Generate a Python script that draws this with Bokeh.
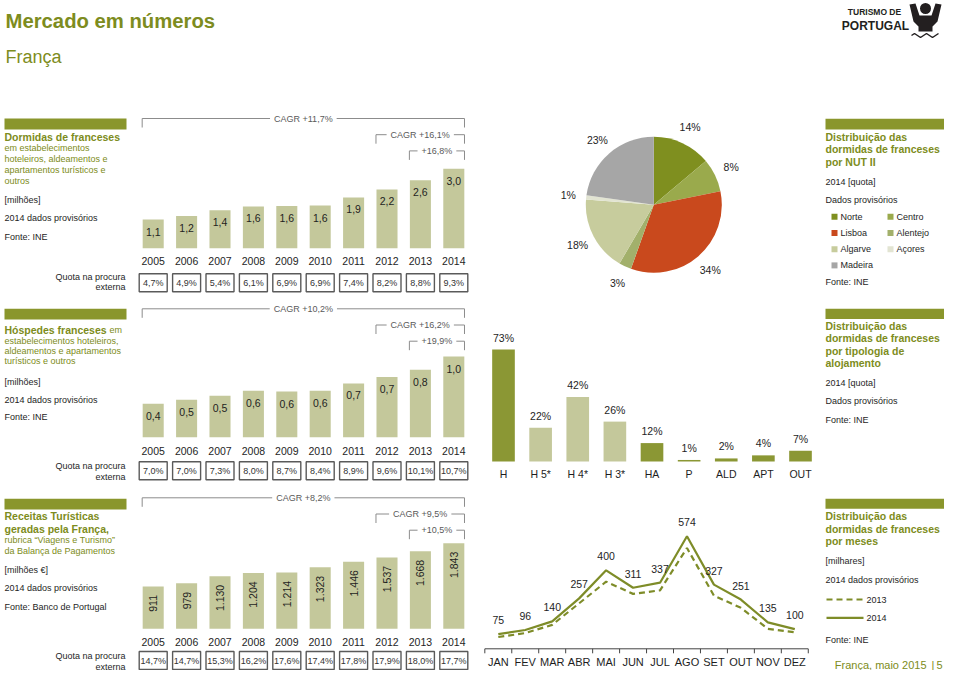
import math
from bokeh.plotting import figure
from bokeh.models import Range1d, ColumnDataSource
from bokeh.core.properties import value
from bokeh.embed import file_html
from bokeh.resources import INLINE

# ---------------- data ----------------
years = [2005, 2006, 2007, 2008, 2009, 2010, 2011, 2012, 2013, 2014]

dormidas = [1.08, 1.22, 1.43, 1.58, 1.59, 1.61, 1.92, 2.22, 2.57, 3.00]
dormidas_quota = ["4,7%", "4,9%", "5,4%", "6,1%", "6,9%", "6,9%", "7,4%", "8,2%", "8,8%", "9,3%"]
dormidas_cagr = ["CAGR +11,7%", "CAGR +16,1%", "+16,8%"]

hospedes = [0.41, 0.46, 0.51, 0.57, 0.56, 0.57, 0.66, 0.74, 0.83, 0.99]
hospedes_quota = ["7,0%", "7,0%", "7,3%", "8,0%", "8,7%", "8,4%", "8,9%", "9,6%", "10,1%", "10,7%"]
hospedes_cagr = ["CAGR +10,2%", "CAGR +16,2%", "+19,9%"]

receitas = [911, 979, 1130, 1204, 1214, 1323, 1446, 1537, 1668, 1843]
receitas_quota = ["14,7%", "14,7%", "15,3%", "16,2%", "17,6%", "17,4%", "17,8%", "17,9%", "18,0%", "17,7%"]
receitas_cagr = ["CAGR +8,2%", "CAGR +9,5%", "+10,5%"]

cagr_start = [2005, 2012, 2013]

nut_regions = ["Norte", "Centro", "Lisboa", "Alentejo", "Algarve", "Açores", "Madeira"]
nut_share = [14, 8, 34, 3, 18, 1, 23]

tipologia = ["H", "H 5*", "H 4*", "H 3*", "HA", "P", "ALD", "APT", "OUT"]
tip_share = [73, 22, 42, 26, 12, 1, 2, 4, 7]

months = ["JAN", "FEV", "MAR", "ABR", "MAI", "JUN", "JUL", "AGO", "SET", "OUT", "NOV", "DEZ"]
dormidas_2013 = [60, 80, 122, 232, 342, 280, 298, 514, 271, 209, 102, 84]
dormidas_2014 = [75, 96, 140, 257, 400, 311, 337, 574, 327, 251, 135, 100]

# ---------------- styles ----------------
FONT = value("Liberation Sans")
DARK = "#1e1e1e"
OLIVE_BAR = "#8a962c"
OLIVE_T = "#7d8c20"
LIGHT = "#c4c89b"
BAR_DARK = "#8b9734"
LINE_C = "#7e8c28"
GRAY_L = "#8c8c8c"
GRAY_T = "#5a5a5a"
LOGO = "#231f20"
PIE_COLORS = ["#7f8f1f", "#9aaa4c", "#c9491d", "#a2b06b", "#c7cc9d", "#e2e4d2", "#a6a6a6"]

W, H = 944, 670
X0, Y1 = 0, H

p = figure(width=W, height=H, x_range=Range1d(X0, X0 + W), y_range=Range1d(Y1, 0),
           output_backend="svg", toolbar_location=None, min_border=0,
           x_axis_type=None, y_axis_type=None, outline_line_color=None,
           background_fill_color="white", border_fill_color="white")


def make_range(v0, p0, v1, p1, axis):
    """Linear range so that data value v0 sits at pixel p0 and v1 at pixel p1."""
    if axis == "x":
        f0, f1, L = p0 - X0, p1 - X0, W
    else:
        f0, f1, L = Y1 - p0, Y1 - p1, H
    s = (f1 - f0) / (v1 - v0)
    start = v0 - f0 / s
    return Range1d(start=start, end=start + L / s), s


yr_r, _ = make_range(2005, 152.7, 2014, 453.3, "x")
v1_r, _ = make_range(0, 247.7, 3.0, 168.3, "y")
v2_r, _ = make_range(0, 436.7, 1.0, 355.3, "y")
v3_r, _ = make_range(0, 628.3, 1843, 542.7, "y")
tip_x, _ = make_range(0, 503, 8, 800, "x")
tip_y, _ = make_range(0, 461, 73, 349, "y")
mo_x, _ = make_range(0, 497.8, 11, 794.3, "x")
mo_y, sm = make_range(0, 648.3, 574, 535.7, "y")
pie_x, _ = make_range(0, 653.3, 1, 654.3, "x")
pie_y, _ = make_range(0, 204.3, 1, 203.3, "y")

p.extra_x_ranges = {"yr": yr_r, "tip": tip_x, "mo": mo_x, "pie": pie_x}
p.extra_y_ranges = {"v1": v1_r, "v2": v2_r, "v3": v3_r, "tipv": tip_y, "mv": mo_y, "pie": pie_y}


def txt(x, y, s, size=9, color=DARK, bold=False, align="left", baseline="middle", **kw):
    p.text(x=[x], y=[y], text=[s], text_font=FONT, text_font_size=f"{size}px",
           text_color=color, text_font_style="bold" if bold else "normal",
           text_align=align, text_baseline=baseline, **kw)


def header_bar(x0, x1, y0, y1):
    p.quad(left=[x0], right=[x1], top=[y0], bottom=[y1], fill_color=OLIVE_BAR, line_color=None)


# ---------------- page header ----------------
txt(5, 20.7, "Mercado em números", size=20.3, color=OLIVE_T, bold=True, baseline="alphabetic")
txt(5, 56.7, "França", size=18, color=OLIVE_T, baseline="alphabetic")
txt(874, 11, "TURISMO DE", size=8.5, color=LOGO, bold=True, align="center")
txt(875, 25.5, "PORTUGAL", size=12, color=LOGO, bold=True, align="center")
p.circle(x=[925], y=[8], radius=5.5, fill_color=LOGO, line_color=None)
p.patch(x=[909, 915, 919, 931, 935, 941, 937, 932, 932, 918, 918, 913],
        y=[4, 3, 15, 15, 3, 4, 21, 26, 31, 31, 26, 21], fill_color=LOGO, line_color=None)
p.line(x=[911, 914, 917, 920, 923, 926, 929, 932, 935, 938],
       y=[35, 33, 35, 37, 35, 33, 35, 37, 35, 33], line_color=LOGO, line_width=1.5)

# ---------------- left text panels ----------------
header_bar(4, 126, 118, 129)
txt(4, 136, "Dormidas de franceses", 10.5, OLIVE_T, bold=True)
for i, s in enumerate(["em estabelecimentos", "hoteleiros, aldeamentos e",
                       "apartamentos turísticos e", "outros"]):
    txt(4, 147.7 + 10.9 * i, s, 9, OLIVE_T)
txt(4, 199, "[milhões]", 9)
txt(4, 217.7, "2014 dados provisórios", 9)
txt(4, 236, "Fonte: INE", 9)
txt(125, 276, "Quota na procura", 9, align="right")
txt(125, 286.7, "externa", 9, align="right")

header_bar(4, 126, 308.3, 319)
txt(4, 329.3, "Hóspedes franceses", 10.5, OLIVE_T, bold=True)
txt(109, 329.3, "em", 9, OLIVE_T)
for i, s in enumerate(["estabelecimentos hoteleiros,", "aldeamentos e apartamentos",
                       "turísticos e outros"]):
    txt(4, 340.3 + 10.3 * i, s, 9, OLIVE_T)
txt(4, 381, "[milhões]", 9)
txt(4, 399, "2014 dados provisórios", 9)
txt(4, 416.7, "Fonte: INE", 9)
txt(125, 465.7, "Quota na procura", 9, align="right")
txt(125, 476, "externa", 9, align="right")

header_bar(4, 126, 498.3, 509)
txt(4, 515.5, "Receitas Turísticas", 10.5, OLIVE_T, bold=True)
txt(4, 528.3, "geradas pela França,", 10.5, OLIVE_T, bold=True)
txt(4, 539.5, "rubrica \u201cViagens e Turismo\u201d", 9, OLIVE_T)
txt(4, 550.5, "da Balança de Pagamentos", 9, OLIVE_T)
txt(4, 569.3, "[milhões €]", 9)
txt(4, 587.7, "2014 dados provisórios", 9)
txt(4, 606.3, "Fonte: Banco de Portugal", 9)
txt(125, 655.7, "Quota na procura", 9, align="right")
txt(125, 666, "externa", 9, align="right")

# ---------------- yearly bar charts ----------------
def fmt1(v):
    return f"{v:.1f}".replace(".", ",")


def fmt_int(v):
    return f"{v:,}".replace(",", ".")


sections = [
    dict(vals=dormidas, labels=[fmt1(v) for v in dormidas], quota=dormidas_quota,
         cagr=dormidas_cagr, yname="v1", top=118, year_y=260, box_y=282.2, rotated=False),
    dict(vals=hospedes, labels=[fmt1(v) for v in hospedes], quota=hospedes_quota,
         cagr=hospedes_cagr, yname="v2", top=308.3, year_y=450.7, box_y=470.2, rotated=False),
    dict(vals=receitas, labels=[fmt_int(v) for v in receitas], quota=receitas_quota,
         cagr=receitas_cagr, yname="v3", top=497.3, year_y=641.7, box_y=660, rotated=True),
]

for sec in sections:
    src = ColumnDataSource(dict(year=years, val=sec["vals"], lab=sec["labels"],
                                quota=sec["quota"], yl=[str(y) for y in years],
                                yy=[sec["year_y"]] * len(years), by=[sec["box_y"]] * len(years)))
    p.vbar(x="year", top="val", bottom=0, width=0.63, source=src, fill_color=LIGHT,
           line_color=None, x_range_name="yr", y_range_name=sec["yname"])
    if sec["rotated"]:
        p.text(x="year", y="val", text="lab", source=src, angle=math.pi / 2, y_offset=8.5,
               text_align="right", text_baseline="middle", text_font=FONT,
               text_font_size="10.5px", text_color=DARK, x_range_name="yr",
               y_range_name=sec["yname"])
    else:
        p.text(x="year", y="val", text="lab", source=src, y_offset=12,
               text_align="center", text_baseline="middle", text_font=FONT,
               text_font_size="10.5px", text_color=DARK, x_range_name="yr",
               y_range_name=sec["yname"])
    p.text(x="year", y="yy", text="yl", source=src, text_align="center", text_baseline="middle",
           text_font=FONT, text_font_size="10.5px", text_color=DARK, x_range_name="yr")
    p.rect(x="year", y="by", width=28, height=18, width_units="screen", height_units="screen",
           source=src, fill_color="white", line_color="#5a5a5a", line_width=1.4, x_range_name="yr")
    p.text(x="year", y="by", text="quota", source=src, text_align="center", text_baseline="middle",
           text_font=FONT, text_font_size="9px", text_color="#333333", x_range_name="yr")
    # CAGR brackets
    for k, (start, lab) in enumerate(zip(cagr_start, sec["cagr"])):
        yk = sec["top"] + 16.2 * k
        xa, xb = start - 0.33, years[-1] + 0.32
        p.segment(x0=[xa, xa, xb], y0=[yk, yk, yk], x1=[xb, xa, xb], y1=[yk, yk + 9, yk + 9],
                  line_color=GRAY_L, line_width=1, x_range_name="yr")
        p.text(x=[(xa + xb) / 2], y=[yk], text=[lab], text_align="center", text_baseline="middle",
               text_font=FONT, text_font_size="9px", text_color=GRAY_T,
               background_fill_color="white", padding=4, x_range_name="yr")

# ---------------- pie (NUT II) ----------------
tot = float(sum(nut_share))
starts, ends, lx, ly = [], [], [], []
cum = 0.0
for s in nut_share:
    a0 = cum / tot
    cum += s
    a1 = cum / tot
    starts.append(math.pi / 2 - 2 * math.pi * a0)
    ends.append(math.pi / 2 - 2 * math.pi * a1)
    mid = 2 * math.pi * (a0 + a1) / 2
    lx.append(86 * math.sin(mid))
    ly.append(86 * math.cos(mid))
pie_src = ColumnDataSource(dict(start=starts, end=ends, color=PIE_COLORS, lx=lx, ly=ly,
                                lab=[f"{s}%" for s in nut_share]))
p.wedge(x=0, y=0, radius=68, start_angle="start", end_angle="end", direction="clock",
        fill_color="color", line_color=None, source=pie_src, x_range_name="pie", y_range_name="pie")
p.text(x="lx", y="ly", text="lab", source=pie_src, text_align="center", text_baseline="middle",
       text_font=FONT, text_font_size="10.5px", text_color=DARK, x_range_name="pie", y_range_name="pie")

# right panel 1
header_bar(825, 944, 118.3, 129)
for i, s in enumerate(["Distribuição das", "dormidas de franceses", "por NUT II"]):
    txt(825, 136 + 12.5 * i, s, 10.5, OLIVE_T, bold=True)
txt(825, 181, "2014 [quota]", 9)
txt(825, 199.3, "Dados provisórios", 9)
leg_x = [834 + 56 * (i % 2) for i in range(len(nut_regions))]
leg_y = [216.3 + 16.2 * (i // 2) for i in range(len(nut_regions))]
leg_src = ColumnDataSource(dict(x=leg_x, y=leg_y, tx=[x + 6 for x in leg_x], name=nut_regions,
                                color=PIE_COLORS))
p.rect(x="x", y="y", width=6, height=6, width_units="screen", height_units="screen",
       fill_color="color", line_color=None, source=leg_src)
p.text(x="tx", y="y", text="name", source=leg_src, text_align="left", text_baseline="middle",
       text_font=FONT, text_font_size="9px", text_color=DARK)
txt(825, 281.7, "Fonte: INE", 9)

# ---------------- typology bars ----------------
tip_src = ColumnDataSource(dict(i=list(range(len(tipologia))), v=tip_share, name=tipologia,
                                lab=[f"{v}%" for v in tip_share],
                                ny=[473.3] * len(tipologia),
                                color=[LIGHT if "*" in t else BAR_DARK for t in tipologia]))
p.vbar(x="i", top="v", bottom=0, width=0.61, fill_color="color", line_color=None,
       source=tip_src, x_range_name="tip", y_range_name="tipv")
p.text(x="i", y="v", text="lab", source=tip_src, y_offset=-12, text_align="center",
       text_baseline="middle", text_font=FONT, text_font_size="10.5px", text_color=DARK,
       x_range_name="tip", y_range_name="tipv")
p.text(x="i", y="ny", text="name", source=tip_src, text_align="center", text_baseline="middle",
       text_font=FONT, text_font_size="10.5px", text_color=DARK, x_range_name="tip")

header_bar(825, 944, 308.3, 318.5)
for i, s in enumerate(["Distribuição das", "dormidas de franceses", "por tipologia de", "alojamento"]):
    txt(825, 325 + 12.6 * i, s, 10.5, OLIVE_T, bold=True)
txt(825, 382, "2014 [quota]", 9)
txt(825, 400.7, "Dados provisórios", 9)
txt(825, 419.3, "Fonte: INE", 9)

# ---------------- monthly lines ----------------
idx = list(range(len(months)))
mo_src = ColumnDataSource(dict(i=idx, m13=dormidas_2013, m14=dormidas_2014, name=months,
                               lab=[str(v) for v in dormidas_2014], ny=[661] * len(months)))
p.line(x="i", y="m13", source=mo_src, line_color=LINE_C, line_width=2.2, line_dash="6 4",
       x_range_name="mo", y_range_name="mv")
p.line(x="i", y="m14", source=mo_src, line_color=LINE_C, line_width=2.2,
       x_range_name="mo", y_range_name="mv")
p.text(x="i", y="m14", text="lab", source=mo_src, y_offset=-14, text_align="center",
       text_baseline="middle", text_font=FONT, text_font_size="10.5px", text_color=DARK,
       x_range_name="mo", y_range_name="mv")
p.text(x="i", y="ny", text="name", source=mo_src, text_align="center", text_baseline="middle",
       text_font=FONT, text_font_size="11px", text_color=DARK, x_range_name="mo")
# axis with ticks between categories
p.line(x=[-0.5, len(months) - 0.5], y=[0, 0], line_color="#444444", line_width=1,
       x_range_name="mo", y_range_name="mv")
tick_x = [k - 0.5 for k in range(len(months) + 1)]
p.segment(x0=tick_x, y0=[0] * len(tick_x), x1=tick_x, y1=[-4.5 / sm] * len(tick_x),
          line_color="#444444", line_width=1, x_range_name="mo", y_range_name="mv")

header_bar(825, 944, 498.3, 508.3)
for i, s in enumerate(["Distribuição das", "dormidas de franceses", "por meses"]):
    txt(825, 515.7 + 12.5 * i, s, 10.5, OLIVE_T, bold=True)
txt(825, 560.7, "[milhares]", 9)
txt(825, 579.3, "2014 dados provisórios", 9)
p.segment(x0=[826], y0=[599], x1=[863], y1=[599], line_color=LINE_C, line_width=2.2, line_dash="6 4")
p.segment(x0=[826], y0=[617.3], x1=[863], y1=[617.3], line_color=LINE_C, line_width=2.2)
txt(866, 599, "2013", 9)
txt(866, 617.3, "2014", 9)
txt(825, 639, "Fonte: INE", 9)

# footer
txt(926, 664, "França, maio 2015", 11, OLIVE_T, align="right")
txt(931, 664, "|", 11, OLIVE_T)
txt(936, 664, "5", 11, OLIVE_T)

open("out.html", "w").write(file_html(p, INLINE))
